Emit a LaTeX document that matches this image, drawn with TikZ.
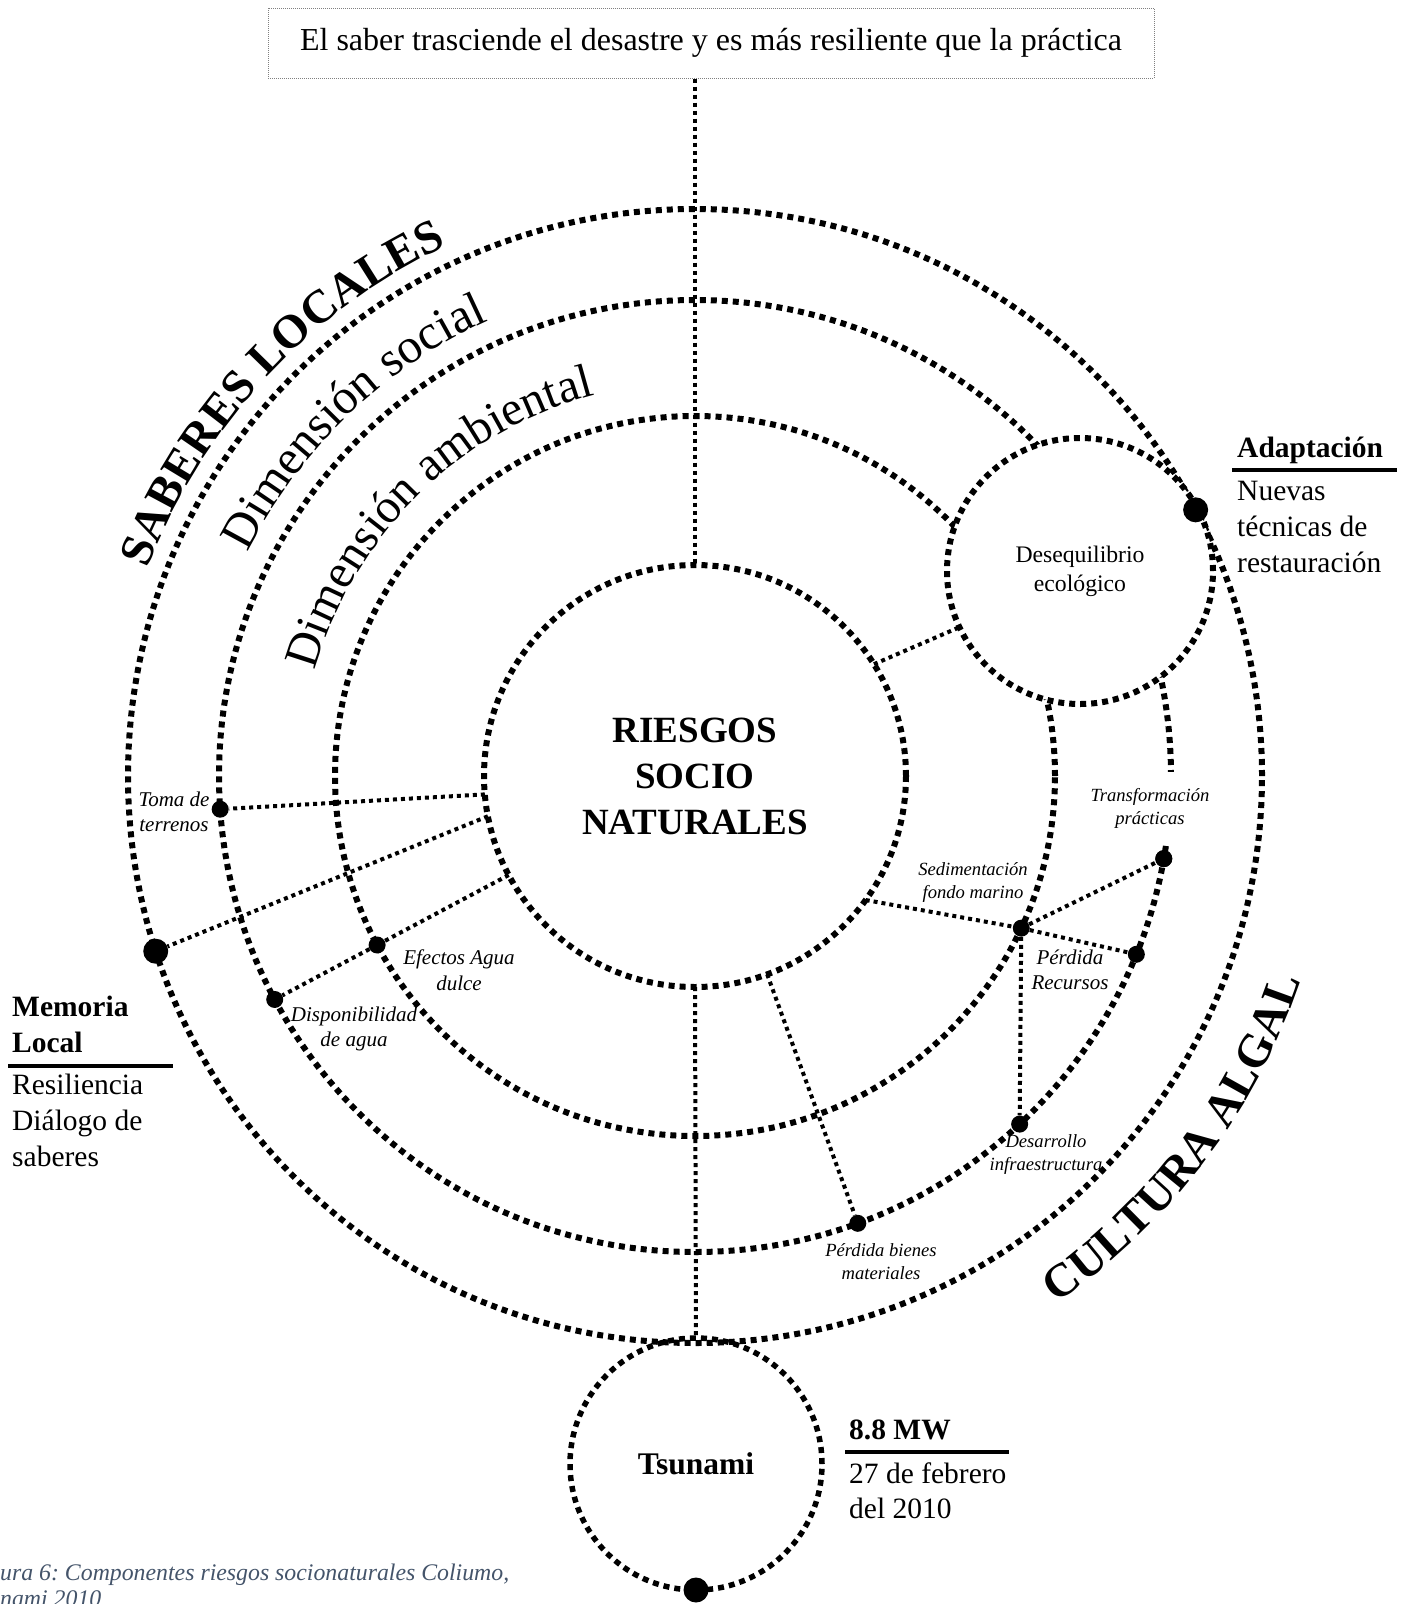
\documentclass[tikz,border=0pt]{standalone}
\usepackage{fontspec}
\setmainfont{Liberation Serif}
\usetikzlibrary{decorations.text}
\definecolor{captionslate}{RGB}{68,84,106}
\newcommand\fsz[2]{\fontsize{#1}{#2}\selectfont}

\begin{document}
\begin{tikzpicture}[x=1pt,y=1pt,
  ring/.style={circle, draw, line width=6pt, dash pattern=on 6pt off 5pt, outer sep=0pt, inner sep=0pt},
  link/.style={line width=4pt, dash pattern=on 4pt off 4pt},
  dot/.style={circle, fill=black, inner sep=0pt, minimum size=17pt},
  bigdot/.style={circle, fill=black, inner sep=0pt, minimum size=25pt},
  small/.style={font=\fsz{21}{25.6}\itshape, align=center, inner sep=0pt},
  smaller/.style={font=\fsz{18.6}{23}\itshape, align=center, inner sep=0pt},
  side/.style={font=\fsz{29.5}{36}, anchor=base west, inner sep=0pt},
  sidehead/.style={font=\fsz{29.5}{36}\bfseries, anchor=base west, inner sep=0pt},
  rulebar/.style={line width=3.3pt},
  captext/.style={font=\fsz{23.8}{25.6}\itshape\frenchspacing, text=captionslate, anchor=base west, inner sep=0pt},
  arctext/.style={decorate, decoration={text along path, text align=center, text={#1}}},
]
\useasboundingbox (0,0) rectangle (1408,-1604);
\clip (0,0) rectangle (1408,-1604);

\coordinate (C) at (695,-776);

% concentric rings
\node[ring, minimum size=1134pt] (outer) at (C) {};
\node[ring, minimum size=952pt] (social) at (C) {};
\node[ring, minimum size=720pt] (amb) at (C) {};
\node[ring, minimum size=422pt, font=\fsz{37}{46}\bfseries, align=center] (core) at (C) {RIESGOS\\SOCIO\\NATURALES};

% event circle and imbalance circle
\node[ring, line width=5.5pt, minimum size=252pt, font=\fsz{31.5}{36}\bfseries] (tsunami) at (696,-1464) {Tsunami};
\node[ring, fill=white, minimum size=266pt, font=\fsz{23.7}{28.7}, align=center] (deseq) at (1080,-571) {Desequilibrio\\ecológico};

% heading box
\node[draw=gray, line width=1pt, dash pattern=on 1pt off 1pt, minimum width=886pt, minimum height=70pt, inner sep=0pt, font=\fsz{32}{38}] (title) at (711,-43) {El saber trasciende el desastre y es más resiliente que la práctica};

% points on the rings
\node[bigdot] (adapt) at (outer.28.9) {};
\node[bigdot] (memoria) at (outer.198.9) {};
\node[dot] (toma) at (social.184.6) {};
\node[dot] (dispo) at (social.208.7) {};
\node[dot] (efectos) at (amb.208.7) {};
\node[dot] (sedim) at (amb.335.5) {};
\node[dot] (perdrec) at (social.338.9) {};
\node[dot] (transf) at (social.350.8) {};
\node[dot] (desarr) at (social.313.5) {};
\node[dot] (bienes) at (social.290.9) {};

% connectors
\draw[link] (title.south -| core.north) -- (core.north);
\draw[link] (core.south) -- (tsunami.north);
\draw[link] (core.185.4) -- (toma);
\draw[link] (core.191.7) -- (memoria);
\draw[link] (core.208.7) -- (efectos) -- (dispo);
\draw[link] (core.32.6) -- (deseq.205.6);
\draw[link] (core.324.5) -- (sedim);
\draw[link] (sedim) -- (transf);
\draw[link] (sedim) -- (perdrec);
\draw[link] (sedim) -- (desarr);
\draw[link] (core.290.9) -- (bienes);

% labels of the points
\node[small] (l-toma) at (174,-812) {Toma de\\terrenos};
\node[small] (l-efectos) at (459,-970) {Efectos Agua\\dulce};
\node[small] (l-dispo) at (354,-1029) {Disponibilidad\\de agua};
\node[smaller] (l-sedim) at (973,-883) {Sedimentación\\fondo marino};
\node[small] (l-perdrec) at (1070,-970) {Pérdida\\Recursos};
\node[smaller, fill=white, inner ysep=16pt] (l-transf) at (1150,-808) {Transformación\\prácticas};
\node[smaller] (l-desarr) at (1046,-1155) {Desarrollo\\infraestructura};
\node[smaller] (l-bienes) at (881,-1262) {Pérdida bienes\\materiales};

% redraw the point under the white label
\node[dot] at (transf) {};
\node[bigdot] (tsudot) at (tsunami.south) {};

% curved ring titles
\path[arctext={|\fsz{47}{47}\bfseries|SABERES LOCALES}]
  ([shift={(197.2:585pt)}]C) arc[start angle=197.2, end angle=77.2, radius=585pt];
\path[arctext={|\fsz{49}{49}|Dimensión social}]
  ([shift={(193.9:500pt)}]C) arc[start angle=193.9, end angle=73.9, radius=500pt];
\path[arctext={|\fsz{48}{48}|Dimensión ambiental}]
  ([shift={(194.6:394pt)}]C) arc[start angle=194.6, end angle=74.6, radius=394pt];
\path[arctext={|\fsz{47}{47}\bfseries|CULTURA ALGAL}]
  ([shift={(-97.1:639pt)}]C) arc[start angle=-97.1, end angle=22.9, radius=639pt];

% side notes
\node[sidehead] (adapt-head) at (1237,-457) {Adaptación};
\coordinate (adapt-ra) at (1232,-470);
\coordinate (adapt-rb) at (1397,-470);
\draw[rulebar] (adapt-ra) -- (adapt-rb);
\node[side] (adapt-1) at (1237,-500) {Nuevas};
\node[side] (adapt-2) at (1237,-536) {técnicas de};
\node[side] (adapt-3) at (1237,-572) {restauración};

\node[sidehead] (mem-head1) at (12,-1016) {Memoria};
\node[sidehead] (mem-head2) at (12,-1052) {Local};
\coordinate (mem-ra) at (8,-1066);
\coordinate (mem-rb) at (173,-1066);
\draw[rulebar] (mem-ra) -- (mem-rb);
\node[side] (mem-1) at (12,-1094) {Resiliencia};
\node[side] (mem-2) at (12,-1130) {Diálogo de};
\node[side] (mem-3) at (12,-1166) {saberes};

\node[sidehead] (mw-head) at (849,-1439) {8.8 MW};
\coordinate (mw-ra) at (845,-1452);
\coordinate (mw-rb) at (1009,-1452);
\draw[rulebar] (mw-ra) -- (mw-rb);
\node[side] (mw-1) at (849,-1483) {27 de febrero};
\node[side] (mw-2) at (849,-1518) {del 2010};

% figure caption, running off the page edges
\node[captext] (cap-1) at (0,-1580) {ura 6: Componentes riesgos socionaturales Coliumo,};
\node[captext] (cap-2) at (0,-1606) {nami 2010};
\end{tikzpicture}
\end{document}
